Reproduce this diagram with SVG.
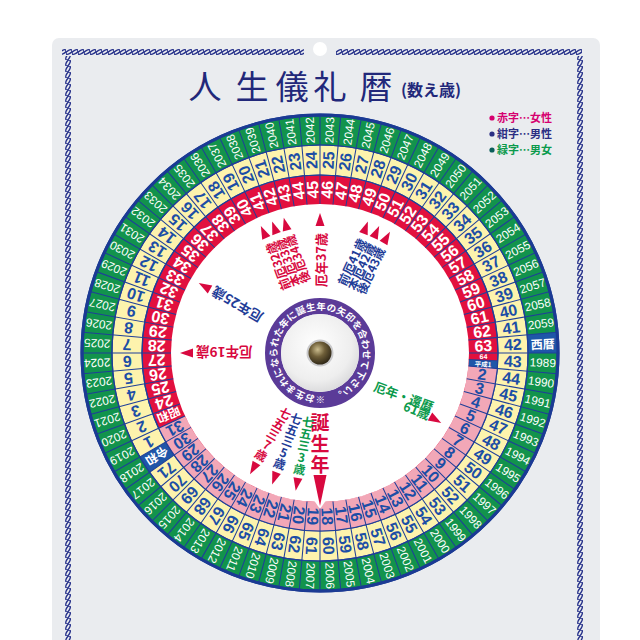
<svg xmlns="http://www.w3.org/2000/svg" width="640" height="640" viewBox="0 0 640 640">
<defs>
<style>
.gy text{font-family:"Liberation Sans",Arial,sans-serif;font-size:11.8px;fill:#fff;text-anchor:middle;dominant-baseline:central}
.yn text{font-family:"Liberation Sans",Arial,sans-serif;font-weight:bold;font-size:16px;fill:#1c4ea6;text-anchor:middle;dominant-baseline:central}
.rn text{font-family:"Liberation Sans",Arial,sans-serif;font-weight:bold;font-size:16px;fill:#fff;text-anchor:middle;dominant-baseline:central}
.pn text{font-family:"Liberation Sans",Arial,sans-serif;font-weight:bold;font-size:16px;fill:#1c4ea6;text-anchor:middle;dominant-baseline:central}
text.jc{font-family:"Noto Sans CJK JP","Noto Sans",sans-serif;font-weight:bold;font-size:12px;fill:#fff;text-anchor:middle;dominant-baseline:central}
.lb text{font-family:"Noto Sans CJK JP","Noto Sans",sans-serif;font-weight:bold;dominant-baseline:central}
.lb text.vt{writing-mode:tb;text-orientation:upright;dominant-baseline:auto}
.red{fill:#d8093f}
.nav{fill:#1f3d98}
.grn{fill:#0b9a4c}
.ar{fill:#d8093f}
</style>
<pattern id="ropeH" width="6" height="8" patternUnits="userSpaceOnUse">
<ellipse cx="3" cy="4" rx="3.4" ry="1.6" transform="rotate(-30 3 4)" fill="none" stroke="#25308a" stroke-width="1.4"/>
</pattern>
<pattern id="ropeV" width="8" height="6" patternUnits="userSpaceOnUse">
<ellipse cx="4" cy="3" rx="3.4" ry="1.6" transform="rotate(-60 4 3)" fill="none" stroke="#25308a" stroke-width="1.4"/>
</pattern>
<radialGradient id="disc" cx="0.45" cy="0.4" r="0.65">
<stop offset="0" stop-color="#ffffff"/>
<stop offset="0.7" stop-color="#eeeeee"/>
<stop offset="1" stop-color="#d6d6d8"/>
</radialGradient>
<radialGradient id="knob" cx="0.4" cy="0.35" r="0.7">
<stop offset="0" stop-color="#cbbd8e"/>
<stop offset="0.45" stop-color="#6e5e38"/>
<stop offset="1" stop-color="#2a2314"/>
</radialGradient>
</defs>

<rect width="640" height="640" fill="#ffffff"/>
<g id="board">
<rect x="52" y="38" width="548" height="640" rx="7" fill="#eaecef"/>
<circle cx="320" cy="49" r="7" fill="#ffffff"/>
<rect x="62" y="48" width="242" height="8" fill="url(#ropeH)"/>
<rect x="336" y="48" width="246" height="8" fill="url(#ropeH)"/>
<rect x="64" y="56" width="8" height="590" fill="url(#ropeV)"/>
<rect x="576" y="56" width="8" height="590" fill="url(#ropeV)"/>
</g>

<g id="title" fill="#22287a" font-family="'Noto Sans CJK JP','Noto Sans',sans-serif">
<text x="205 252 292 330 376" y="99" font-size="33" text-anchor="middle">人生儀礼暦</text>
<text x="401" y="96" font-size="16" font-weight="bold">(数え歳)</text>
</g>

<g id="legend" font-family="'Noto Sans CJK JP','Noto Sans',sans-serif" font-size="11" font-weight="bold">
<circle cx="492" cy="118" r="2.6" fill="#d6006f"/>
<text x="497" y="122" fill="#d6006f">赤字…女性</text>
<circle cx="492" cy="134" r="2.6" fill="#2b2e83"/>
<text x="497" y="138" fill="#2b2e83">紺字…男性</text>
<circle cx="492" cy="150" r="2.6" fill="#0b5e5a"/>
<text x="497" y="154" fill="#0b9a4c">緑字…男女</text>
</g>

<g id="wheel" transform="translate(320 353)">
<circle r="238" fill="#12934c" stroke="#1b3a94" stroke-width="3"/>
<path d="M-10.381,-237.773A238,238 0 0 1 10.381,-237.773L9.073,-207.802A208,208 0 0 0 -9.073,-207.802Z" fill="#1e56a8" transform="rotate(87.5)"/>
<circle r="208" fill="#fdf3ad" stroke="#1f3f99" stroke-width="1.2"/>
<path d="M-9.073,-207.802A208,208 0 0 1 9.073,-207.802L7.764,-177.830A178,178 0 0 0 -7.764,-177.830Z" fill="#1e56a8" transform="rotate(237.5)"/>
<circle r="178" fill="#e2103e" stroke="#1f3f99" stroke-width="1.2"/>
<path d="M177.323,15.514A178,178 0 0 1 -161.323,75.226L-135.040,62.970A149,149 0 0 0 148.433,12.986Z" fill="#f2a7b7"/>
<path d="M177.831,7.764A178,178 0 0 1 177.323,15.514L148.433,12.986A149,149 0 0 0 148.858,6.499Z" fill="#1e56a8"/>
<circle r="149" fill="#ffffff"/>
<circle r="193.5" fill="none" stroke="#1f3f99" stroke-width="89" pathLength="360" stroke-dasharray="0.3 4.7" stroke-dashoffset="0.15"/>
<line x1="148.858" y1="6.499" x2="177.831" y2="7.764" stroke="#1f3f99" stroke-width="0.8"/>
<circle r="238" fill="none" stroke="#1b3a94" stroke-width="3"/>
<circle r="208" fill="none" stroke="#1f3f99" stroke-width="1.2"/>
<circle r="178" fill="none" stroke="#1f3f99" stroke-width="1.2"/>
</g>

<g id="ring-years" class="gy" transform="translate(320 353)">
<text class="jc" transform="rotate(-2.5)" x="223">西暦</text>
<text transform="rotate(2.5)" x="223">1989</text>
<text transform="rotate(7.5)" x="223">1990</text>
<text transform="rotate(12.5)" x="223">1991</text>
<text transform="rotate(17.5)" x="223">1992</text>
<text transform="rotate(22.5)" x="223">1993</text>
<text transform="rotate(27.5)" x="223">1994</text>
<text transform="rotate(32.5)" x="223">1995</text>
<text transform="rotate(37.5)" x="223">1996</text>
<text transform="rotate(42.5)" x="223">1997</text>
<text transform="rotate(47.5)" x="223">1998</text>
<text transform="rotate(52.5)" x="223">1999</text>
<text transform="rotate(57.5)" x="223">2000</text>
<text transform="rotate(62.5)" x="223">2001</text>
<text transform="rotate(67.5)" x="223">2002</text>
<text transform="rotate(72.5)" x="223">2003</text>
<text transform="rotate(77.5)" x="223">2004</text>
<text transform="rotate(82.5)" x="223">2005</text>
<text transform="rotate(87.5)" x="223">2006</text>
<text transform="rotate(92.5)" x="223">2007</text>
<text transform="rotate(97.5)" x="223">2008</text>
<text transform="rotate(102.5)" x="223">2009</text>
<text transform="rotate(107.5)" x="223">2010</text>
<text transform="rotate(112.5)" x="223">2011</text>
<text transform="rotate(117.5)" x="223">2012</text>
<text transform="rotate(122.5)" x="223">2013</text>
<text transform="rotate(127.5)" x="223">2014</text>
<text transform="rotate(132.5)" x="223">2015</text>
<text transform="rotate(137.5)" x="223">2016</text>
<text transform="rotate(142.5)" x="223">2017</text>
<text transform="rotate(147.5)" x="223">2018</text>
<text transform="rotate(152.5)" x="223">2019</text>
<text transform="rotate(157.5)" x="223">2020</text>
<text transform="rotate(162.5)" x="223">2021</text>
<text transform="rotate(167.5)" x="223">2022</text>
<text transform="rotate(172.5)" x="223">2023</text>
<text transform="rotate(177.5)" x="223">2024</text>
<text transform="rotate(182.5)" x="223">2025</text>
<text transform="rotate(187.5)" x="223">2026</text>
<text transform="rotate(192.5)" x="223">2027</text>
<text transform="rotate(197.5)" x="223">2028</text>
<text transform="rotate(202.5)" x="223">2029</text>
<text transform="rotate(207.5)" x="223">2030</text>
<text transform="rotate(212.5)" x="223">2031</text>
<text transform="rotate(217.5)" x="223">2032</text>
<text transform="rotate(222.5)" x="223">2033</text>
<text transform="rotate(227.5)" x="223">2034</text>
<text transform="rotate(232.5)" x="223">2035</text>
<text transform="rotate(237.5)" x="223">2036</text>
<text transform="rotate(242.5)" x="223">2037</text>
<text transform="rotate(247.5)" x="223">2038</text>
<text transform="rotate(252.5)" x="223">2039</text>
<text transform="rotate(257.5)" x="223">2040</text>
<text transform="rotate(262.5)" x="223">2041</text>
<text transform="rotate(267.5)" x="223">2042</text>
<text transform="rotate(272.5)" x="223">2043</text>
<text transform="rotate(277.5)" x="223">2044</text>
<text transform="rotate(282.5)" x="223">2045</text>
<text transform="rotate(287.5)" x="223">2046</text>
<text transform="rotate(292.5)" x="223">2047</text>
<text transform="rotate(297.5)" x="223">2048</text>
<text transform="rotate(302.5)" x="223">2049</text>
<text transform="rotate(307.5)" x="223">2050</text>
<text transform="rotate(312.5)" x="223">2051</text>
<text transform="rotate(317.5)" x="223">2052</text>
<text transform="rotate(322.5)" x="223">2053</text>
<text transform="rotate(327.5)" x="223">2054</text>
<text transform="rotate(332.5)" x="223">2055</text>
<text transform="rotate(337.5)" x="223">2056</text>
<text transform="rotate(342.5)" x="223">2057</text>
<text transform="rotate(347.5)" x="223">2058</text>
<text transform="rotate(352.5)" x="223">2059</text>
</g>

<g id="ring-yellow" class="yn" transform="translate(320 353)">
<text class="jc" transform="rotate(147.5)" x="193">令和</text>
<text transform="rotate(152.5)" x="193">1</text>
<text transform="rotate(157.5)" x="193">2</text>
<text transform="rotate(162.5)" x="193">3</text>
<text transform="rotate(167.5)" x="193">4</text>
<text transform="rotate(172.5)" x="193">5</text>
<text transform="rotate(177.5)" x="193">6</text>
<text transform="rotate(182.5)" x="193">7</text>
<text transform="rotate(187.5)" x="193">8</text>
<text transform="rotate(192.5)" x="193">9</text>
<text transform="rotate(197.5)" x="193">10</text>
<text transform="rotate(202.5)" x="193">11</text>
<text transform="rotate(207.5)" x="193">12</text>
<text transform="rotate(212.5)" x="193">13</text>
<text transform="rotate(217.5)" x="193">14</text>
<text transform="rotate(222.5)" x="193">15</text>
<text transform="rotate(227.5)" x="193">16</text>
<text transform="rotate(232.5)" x="193">17</text>
<text transform="rotate(237.5)" x="193">18</text>
<text transform="rotate(242.5)" x="193">19</text>
<text transform="rotate(247.5)" x="193">20</text>
<text transform="rotate(252.5)" x="193">21</text>
<text transform="rotate(257.5)" x="193">22</text>
<text transform="rotate(262.5)" x="193">23</text>
<text transform="rotate(267.5)" x="193">24</text>
<text transform="rotate(272.5)" x="193">25</text>
<text transform="rotate(277.5)" x="193">26</text>
<text transform="rotate(282.5)" x="193">27</text>
<text transform="rotate(287.5)" x="193">28</text>
<text transform="rotate(292.5)" x="193">29</text>
<text transform="rotate(297.5)" x="193">30</text>
<text transform="rotate(302.5)" x="193">31</text>
<text transform="rotate(307.5)" x="193">32</text>
<text transform="rotate(312.5)" x="193">33</text>
<text transform="rotate(317.5)" x="193">34</text>
<text transform="rotate(322.5)" x="193">35</text>
<text transform="rotate(327.5)" x="193">36</text>
<text transform="rotate(332.5)" x="193">37</text>
<text transform="rotate(337.5)" x="193">38</text>
<text transform="rotate(342.5)" x="193">39</text>
<text transform="rotate(347.5)" x="193">40</text>
<text transform="rotate(352.5)" x="193">41</text>
<text transform="rotate(357.5)" x="193">42</text>
<text transform="rotate(2.5)" x="193">43</text>
<text transform="rotate(7.5)" x="193">44</text>
<text transform="rotate(12.5)" x="193">45</text>
<text transform="rotate(17.5)" x="193">46</text>
<text transform="rotate(22.5)" x="193">47</text>
<text transform="rotate(27.5)" x="193">48</text>
<text transform="rotate(32.5)" x="193">49</text>
<text transform="rotate(37.5)" x="193">50</text>
<text transform="rotate(42.5)" x="193">51</text>
<text transform="rotate(47.5)" x="193">52</text>
<text transform="rotate(52.5)" x="193">53</text>
<text transform="rotate(57.5)" x="193">54</text>
<text transform="rotate(62.5)" x="193">55</text>
<text transform="rotate(67.5)" x="193">56</text>
<text transform="rotate(72.5)" x="193">57</text>
<text transform="rotate(77.5)" x="193">58</text>
<text transform="rotate(82.5)" x="193">59</text>
<text transform="rotate(87.5)" x="193">60</text>
<text transform="rotate(92.5)" x="193">61</text>
<text transform="rotate(97.5)" x="193">62</text>
<text transform="rotate(102.5)" x="193">63</text>
<text transform="rotate(107.5)" x="193">64</text>
<text transform="rotate(112.5)" x="193">65</text>
<text transform="rotate(117.5)" x="193">66</text>
<text transform="rotate(122.5)" x="193">67</text>
<text transform="rotate(127.5)" x="193">68</text>
<text transform="rotate(132.5)" x="193">69</text>
<text transform="rotate(137.5)" x="193">70</text>
<text transform="rotate(142.5)" x="193">71</text>
</g>

<g id="ring-showa" class="rn" transform="translate(320 353)">
<text class="jc" transform="rotate(157.5)" x="163.5">昭和</text>
<text transform="rotate(162.5)" x="163.5">24</text>
<text transform="rotate(167.5)" x="163.5">25</text>
<text transform="rotate(172.5)" x="163.5">26</text>
<text transform="rotate(177.5)" x="163.5">27</text>
<text transform="rotate(182.5)" x="163.5">28</text>
<text transform="rotate(187.5)" x="163.5">29</text>
<text transform="rotate(192.5)" x="163.5">30</text>
<text transform="rotate(197.5)" x="163.5">31</text>
<text transform="rotate(202.5)" x="163.5">32</text>
<text transform="rotate(207.5)" x="163.5">33</text>
<text transform="rotate(212.5)" x="163.5">34</text>
<text transform="rotate(217.5)" x="163.5">35</text>
<text transform="rotate(222.5)" x="163.5">36</text>
<text transform="rotate(227.5)" x="163.5">37</text>
<text transform="rotate(232.5)" x="163.5">38</text>
<text transform="rotate(237.5)" x="163.5">39</text>
<text transform="rotate(242.5)" x="163.5">40</text>
<text transform="rotate(247.5)" x="163.5">41</text>
<text transform="rotate(252.5)" x="163.5">42</text>
<text transform="rotate(257.5)" x="163.5">43</text>
<text transform="rotate(262.5)" x="163.5">44</text>
<text transform="rotate(267.5)" x="163.5">45</text>
<text transform="rotate(272.5)" x="163.5">46</text>
<text transform="rotate(277.5)" x="163.5">47</text>
<text transform="rotate(282.5)" x="163.5">48</text>
<text transform="rotate(287.5)" x="163.5">49</text>
<text transform="rotate(292.5)" x="163.5">50</text>
<text transform="rotate(297.5)" x="163.5">51</text>
<text transform="rotate(302.5)" x="163.5">52</text>
<text transform="rotate(307.5)" x="163.5">53</text>
<text transform="rotate(312.5)" x="163.5">54</text>
<text transform="rotate(317.5)" x="163.5">55</text>
<text transform="rotate(322.5)" x="163.5">56</text>
<text transform="rotate(327.5)" x="163.5">57</text>
<text transform="rotate(332.5)" x="163.5">58</text>
<text transform="rotate(337.5)" x="163.5">59</text>
<text transform="rotate(342.5)" x="163.5">60</text>
<text transform="rotate(347.5)" x="163.5">61</text>
<text transform="rotate(352.5)" x="163.5">62</text>
<text transform="rotate(357.5)" x="163.5">63</text>
<text transform="rotate(1.25)" x="163.5" style="font-size:7px">64</text>
<text class="jc" transform="rotate(3.75)" x="163.5" style="font-size:6.5px">平成1</text>
</g>

<g id="ring-heisei" class="pn" transform="translate(320 353)">
<text transform="rotate(7.5)" x="163.5">2</text>
<text transform="rotate(12.5)" x="163.5">3</text>
<text transform="rotate(17.5)" x="163.5">4</text>
<text transform="rotate(22.5)" x="163.5">5</text>
<text transform="rotate(27.5)" x="163.5">6</text>
<text transform="rotate(32.5)" x="163.5">7</text>
<text transform="rotate(37.5)" x="163.5">8</text>
<text transform="rotate(42.5)" x="163.5">9</text>
<text transform="rotate(47.5)" x="163.5">10</text>
<text transform="rotate(52.5)" x="163.5">11</text>
<text transform="rotate(57.5)" x="163.5">12</text>
<text transform="rotate(62.5)" x="163.5">13</text>
<text transform="rotate(67.5)" x="163.5">14</text>
<text transform="rotate(72.5)" x="163.5">15</text>
<text transform="rotate(77.5)" x="163.5">16</text>
<text transform="rotate(82.5)" x="163.5">17</text>
<text transform="rotate(87.5)" x="163.5">18</text>
<text transform="rotate(92.5)" x="163.5">19</text>
<text transform="rotate(97.5)" x="163.5">20</text>
<text transform="rotate(102.5)" x="163.5">21</text>
<text transform="rotate(107.5)" x="163.5">22</text>
<text transform="rotate(112.5)" x="163.5">23</text>
<text transform="rotate(117.5)" x="163.5">24</text>
<text transform="rotate(122.5)" x="163.5">25</text>
<text transform="rotate(127.5)" x="163.5">26</text>
<text transform="rotate(132.5)" x="163.5">27</text>
<text transform="rotate(137.5)" x="163.5">28</text>
<text transform="rotate(142.5)" x="163.5">29</text>
<text transform="rotate(147.5)" x="163.5">30</text>
<text transform="rotate(152.5)" x="163.5">31</text>
</g>

<g id="labels" class="lb" transform="translate(320 353)">
<g id="lbl-birth">
<path d="M-7,146 L0,156 L7,146Z" fill="#ffffff"/>
<text class="red vt" x="0" y="60" font-size="19" letter-spacing="2">誕生年</text>
<path class="ar" d="M-6.5,122 L0,153 L6.5,122Z"/>
</g>
<g id="lbl-753-3" transform="rotate(10)">
<text class="grn vt" x="0" y="64" font-size="12">七五三3歳</text>
<path class="ar" d="M-4.5,127 L0,140 L4.5,127Z"/>
</g>
<g id="lbl-753-5" transform="rotate(20)">
<text class="nav vt" x="0" y="64" font-size="12">七五三5歳</text>
<path class="ar" d="M-4.5,127 L0,140 L4.5,127Z"/>
</g>
<g id="lbl-753-7" transform="rotate(30)">
<text class="red vt" x="0" y="64" font-size="12">七五三7歳</text>
<path class="ar" d="M-4.5,127 L0,140 L4.5,127Z"/>
</g>
<g id="lbl-19" transform="rotate(180)">
<text class="red" x="124" y="0" text-anchor="end" font-size="13.5">厄年19歳</text>
<path class="ar" d="M127,-4.5 L140,0 L127,4.5Z"/>
</g>
<g id="lbl-25" transform="rotate(210)">
<text class="nav" x="124" y="0" text-anchor="end" font-size="13.5">厄年25歳</text>
<path class="ar" d="M127,-4.5 L140,0 L127,4.5Z"/>
</g>
<g id="lbl-32-34">
<g transform="rotate(250)">
<text class="red" x="121" y="-10.5" text-anchor="end" font-size="12">前厄32歳</text>
<text class="red" x="121" y="0" text-anchor="end" font-size="12">本厄33歳</text>
<text class="red" x="121" y="10.5" text-anchor="end" font-size="12">後厄34歳</text>
</g>
<path class="ar" transform="rotate(245)" d="M127,-4.5 L140,0 L127,4.5Z"/>
<path class="ar" transform="rotate(250)" d="M127,-4.5 L140,0 L127,4.5Z"/>
<path class="ar" transform="rotate(255)" d="M127,-4.5 L140,0 L127,4.5Z"/>
</g>
<g id="lbl-37" transform="rotate(270)">
<text class="red" x="120" y="0" text-anchor="end" font-size="13">厄年37歳</text>
<path class="ar" d="M127,-4.5 L140,0 L127,4.5Z"/>
</g>
<g id="lbl-41-43">
<g transform="rotate(295)">
<text class="nav" x="121" y="-10.5" text-anchor="end" font-size="12">前厄41歳</text>
<text class="nav" x="121" y="0" text-anchor="end" font-size="12">本厄42歳</text>
<text class="nav" x="121" y="10.5" text-anchor="end" font-size="12">後厄43歳</text>
</g>
<path class="ar" transform="rotate(290)" d="M127,-4.5 L140,0 L127,4.5Z"/>
<path class="ar" transform="rotate(295)" d="M127,-4.5 L140,0 L127,4.5Z"/>
<path class="ar" transform="rotate(300)" d="M127,-4.5 L140,0 L127,4.5Z"/>
</g>
<g id="lbl-61">
<text class="grn" transform="translate(84 43) rotate(20)" text-anchor="middle" font-size="12.5">厄年・還暦</text>
<text class="grn" transform="translate(97 57) rotate(22)" text-anchor="middle" font-size="12.5">61歳</text>
<path class="ar" transform="rotate(30)" d="M127,-4.5 L140,0 L127,4.5Z"/>
</g>
</g>

<g id="hub" transform="translate(320 353)">
<circle r="47" fill="none" stroke="#5b3b98" stroke-width="16"/>
<circle r="39" fill="url(#disc)"/>
<circle r="13.5" fill="#c9c9cb"/>
<circle r="11.5" fill="url(#knob)"/>
</g>
<path id="hubpath" d="M324.868,395.724A43,43 0 0 1 314.760,310.321A43,43 0 0 1 330.766,394.630" fill="none"/>
<text font-family="'Noto Sans CJK JP','Noto Sans',sans-serif" font-size="9.5" font-weight="bold" fill="#ffffff"><textPath href="#hubpath" textLength="262">※お生まれになられた年に誕生年の矢印を合わせて下さい。</textPath></text>
</svg>
